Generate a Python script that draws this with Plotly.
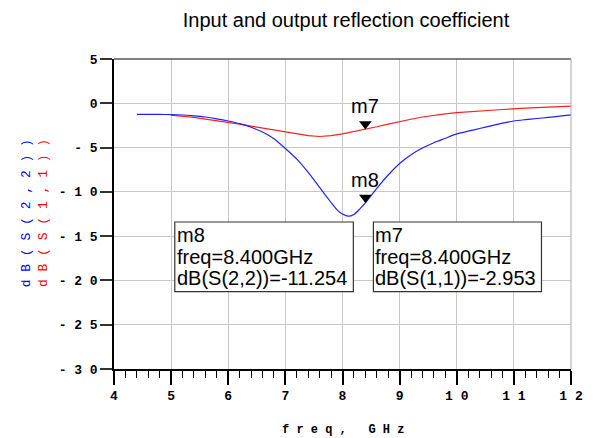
import plotly.graph_objects as go

# ---- data ----
freq_s22 = [4.4, 4.6, 4.8, 5.0, 5.2, 5.4, 5.6, 5.8, 6.0, 6.2, 6.4, 6.6, 6.8, 7.0, 7.2, 7.4,
            7.6, 7.8, 7.9, 8.0, 8.1, 8.2, 8.3, 8.4, 8.6, 8.8, 9.0, 9.2, 9.4, 9.6, 9.8,
            10.0, 10.2, 10.4, 10.6, 10.8, 11.0, 11.2, 11.4, 11.6, 11.8, 12.0]
db_s22 = [-1.25, -1.25, -1.26, -1.27, -1.32, -1.42, -1.55, -1.75, -2.0, -2.3, -2.7, -3.25,
          -4.0, -5.1, -6.3, -7.8, -9.5, -11.2, -12.0, -12.5, -12.75, -12.55, -11.95, -11.25,
          -9.6, -8.1, -6.8, -5.8, -5.05, -4.45, -3.95, -3.45, -3.15, -2.85, -2.55, -2.25,
          -2.0, -1.85, -1.72, -1.6, -1.45, -1.3]

freq_s11 = [5.0, 5.2, 5.4, 5.6, 5.8, 6.0, 6.2, 6.4, 6.6, 6.8, 7.0, 7.2, 7.4, 7.6, 7.8,
            8.0, 8.2, 8.4, 8.6, 8.8, 9.0, 9.2, 9.4, 9.6, 9.8, 10.0, 10.4, 10.8, 11.2, 11.6, 12.0]
db_s11 = [-1.35, -1.45, -1.6, -1.78, -1.95, -2.13, -2.35, -2.58, -2.8, -3.05, -3.28, -3.5,
          -3.65, -3.75, -3.65, -3.45, -3.2, -2.95, -2.65, -2.35, -2.05, -1.8, -1.55, -1.35,
          -1.2, -1.05, -0.85, -0.7, -0.55, -0.45, -0.33]

marker_names = ["m7", "m8"]
marker_freq = [8.4, 8.4]
marker_vals = [-2.953, -11.254]
marker_traces = ["dB(S(1,1))", "dB(S(2,2))"]

x_ticks = [4, 5, 6, 7, 8, 9, 10, 11, 12]
y_ticks = [5, 0, -5, -10, -15, -20, -25, -30]

X_RANGE = [4, 12]
Y_RANGE = [-30, 5]

# ---- layout geometry ----
W, H = 595, 438
ML, MR, MT, MB = 114, 17, 59, 69
plot_h = H - MT - MB
px_per_db = plot_h / (Y_RANGE[1] - Y_RANGE[0])

def spaced(s):
    return " ".join(list(s))

fig = go.Figure()

fig.add_trace(go.Scatter(x=freq_s11, y=db_s11, mode="lines",
                         line=dict(color="#ff2020", width=1.2), name="dB(S(1,1))"))
fig.add_trace(go.Scatter(x=freq_s22, y=db_s22, mode="lines",
                         line=dict(color="#2020ff", width=1.2, shape="spline", smoothing=0.6),
                         name="dB(S(2,2))"))

# marker triangles (tip at the data point)
tri_size = 11
off = (tri_size / 2) / px_per_db
fig.add_trace(go.Scatter(x=marker_freq, y=[v + off for v in marker_vals], mode="markers",
                         marker=dict(symbol="triangle-down", size=tri_size, color="black",
                                     line=dict(width=0)),
                         hoverinfo="skip"))

TXT_FONT = "Liberation Sans"
annotations = []
for name, f, v in zip(marker_names, marker_freq, marker_vals):
    annotations.append(dict(x=f, y=v, xref="x", yref="y", text=name, showarrow=False,
                            xanchor="center", yanchor="bottom", yshift=10,
                            font=dict(family=TXT_FONT, size=20, color="black")))

# readout boxes
box_x = {"m8": (5.064, 8.19), "m7": (8.541, 11.483)}
box_top_px, box_bot_px = 222, 291.7
def py_to_db(py):
    return Y_RANGE[1] - (py - MT) / px_per_db

shapes = []
line_px = [235, 256.5, 278.3]
for name, f, v, tr in zip(marker_names, marker_freq, marker_vals, marker_traces):
    x0, x1 = box_x[name]
    shapes.append(dict(type="rect", xref="x", yref="y", x0=x0, x1=x1,
                       y0=py_to_db(box_bot_px), y1=py_to_db(box_top_px),
                       line=dict(color="#333333", width=1.2), fillcolor="white", layer="above"))
    lines = [name, "freq=%.3fGHz" % f, "%s=%.3f" % (tr, v)]
    for t, lp in zip(lines, line_px):
        annotations.append(dict(x=x0, y=py_to_db(lp), xref="x", yref="y", text=t,
                                showarrow=False, xanchor="left", yanchor="middle", xshift=0,
                                font=dict(family=TXT_FONT, size=20, color="black")))

# top border and right border
shapes.append(dict(type="line", xref="paper", yref="paper", x0=0, x1=1, y0=1, y1=1,
                   line=dict(color="#555555", width=1.5)))
shapes.append(dict(type="line", xref="paper", yref="paper", x0=1, x1=1, y0=0, y1=1,
                   line=dict(color="#aaaaaa", width=1)))

# y axis titles (two stacked coloured titles)
y_mid_paper = 1 - (213 - MT) / plot_h
for txt, col, xpx in [("dB(S(2,2))", "#0000ff", 25), ("dB(S(1,1))", "#ff0000", 42)]:
    annotations.append(dict(x=(xpx - ML) / (W - ML - MR), y=y_mid_paper, xref="paper", yref="paper",
                            text=spaced(txt), showarrow=False, textangle=-90,
                            xanchor="center", yanchor="middle",
                            font=dict(family="Liberation Mono", size=13, color=col)))

# x axis title
annotations.append(dict(x=0.5, y=1 - (430 - MT) / plot_h, xref="paper", yref="paper",
                        text="f r e q ,   G H z", showarrow=False, xanchor="center",
                        yanchor="middle",
                        font=dict(family="Liberation Mono", size=12, color="black", weight="bold")))

fig.update_layout(
    width=W, height=H,
    margin=dict(l=ML, r=MR, t=MT, b=MB),
    paper_bgcolor="white", plot_bgcolor="white",
    showlegend=False,
    title=dict(text="Input and output reflection coefficient", x=(ML + (W - ML - MR) / 2) / W,
               xanchor="center", y=1 - 20 / H, yanchor="middle",
               font=dict(family=TXT_FONT, size=20, color="black")),
    annotations=annotations,
    shapes=shapes,
)

TICK_FONT = dict(family="Liberation Mono", size=13, color="black", weight="bold")
fig.update_xaxes(range=X_RANGE, tickvals=x_ticks, ticktext=[spaced(str(t)) for t in x_ticks],
                 showgrid=True, gridcolor="#c8c8c8", gridwidth=1,
                 showline=True, linecolor="black", linewidth=1.5,
                 ticks="outside", ticklen=14, tickcolor="black", tickwidth=1.5,
                 tickfont=TICK_FONT,
                 minor=dict(dtick=0.2, ticks="outside", ticklen=7, tickcolor="black",
                            tickwidth=1, showgrid=False),
                 zeroline=False, fixedrange=True)
fig.update_yaxes(range=Y_RANGE, tickvals=y_ticks,
                 ticktext=[spaced(str(t)) for t in y_ticks],
                 showgrid=True, gridcolor="#c8c8c8", gridwidth=1,
                 showline=True, linecolor="black", linewidth=1.5,
                 ticks="outside", ticklen=12, tickcolor="#333333", tickwidth=1.5,
                 tickfont=TICK_FONT,
                 zeroline=False, fixedrange=True)

fig.write_html("out.html")
